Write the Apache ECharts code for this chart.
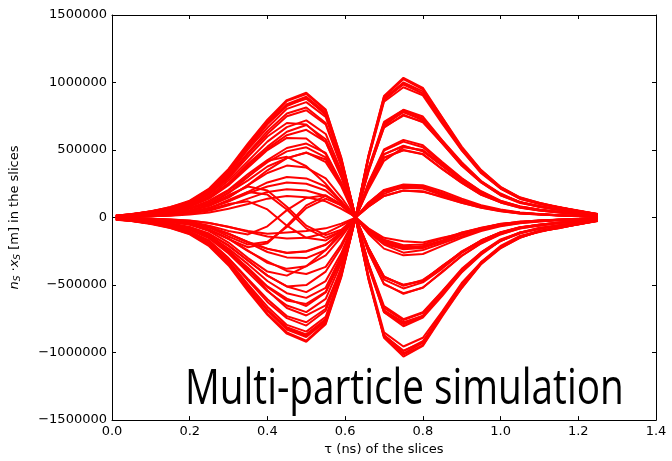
<!DOCTYPE html>
<html>
<head>
<meta charset="utf-8">
<script src="https://cdn.jsdelivr.net/npm/echarts@6/dist/echarts.min.js"></script>
<style>
  html, body { margin: 0; padding: 0; background: #fff; }
  #chart { width: 672px; height: 461px; }
</style>
</head>
<body>
<div id="chart"></div>
<script>
// tau sample points (ns), shared by every slice curve
const tau = [0.01, 0.05, 0.10, 0.15, 0.20, 0.25, 0.30, 0.35, 0.40, 0.45, 0.50, 0.55, 0.59, 0.627,
  0.66, 0.70, 0.75, 0.80, 0.85, 0.90, 0.95, 1.00, 1.05, 1.10, 1.15, 1.20, 1.25];

// n_S * x_S values, in thousands of m, one row per simulated particle run
const runs = [
  [14, 26, 44, 78, 118, 210, 345, 540, 710, 862, 915, 795, 440, 0, -450, -880, -1015, -945, -720, -520, -340, -225, -150, -100, -80, -48, -24],
  [16, 22, 47, 70, 122, 195, 338, 528, 700, 840, 895, 780, 428, 5, -440, -875, -985, -925, -705, -510, -330, -220, -140, -108, -72, -52, -22],
  [13, 25, 42, 72, 112, 190, 330, 515, 690, 825, 885, 760, 425, -4, -452, -882, -1005, -928, -722, -508, -342, -215, -148, -102, -78, -50, -26],
  [12, 24, 43, 66, 110, 185, 320, 505, 665, 805, 855, 745, 410, 3, -430, -850, -955, -890, -695, -485, -330, -210, -136, -98, -70, -46, -22],
  [15, 24, 46, 76, 125, 215, 360, 550, 725, 870, 925, 800, 445, -3, -458, -890, -1030, -950, -730, -522, -345, -228, -148, -104, -78, -50, -25],
  [13, 23, 45, 70, 115, 200, 340, 520, 695, 835, 880, 770, 430, -2, -445, -870, -990, -915, -710, -500, -335, -218, -144, -104, -74, -49, -24],
  [-14, -26, -45, -75, -120, -205, -340, -530, -712, -850, -912, -780, -435, 0, 455, 895, 1025, 950, 738, 515, 350, 225, 146, 110, 75, 52, 25],
  [-15, -23, -45, -70, -112, -200, -335, -520, -690, -830, -885, -770, -430, -5, 448, 868, 995, 915, 715, 500, 340, 215, 142, 105, 76, 48, 24],
  [-13, -24, -42, -72, -115, -188, -335, -500, -682, -812, -865, -752, -415, 4, 452, 884, 1000, 935, 718, 512, 338, 222, 147, 103, 77, 49, 27],
  [-12, -22, -44, -66, -108, -190, -320, -495, -660, -795, -845, -735, -405, -3, 435, 858, 965, 905, 695, 498, 328, 215, 138, 100, 74, 47, 23],
  [-16, -25, -47, -77, -124, -212, -355, -545, -720, -860, -920, -790, -442, 3, 460, 900, 1035, 960, 740, 525, 352, 228, 150, 108, 78, 51, 26],
  [-13, -24, -43, -69, -114, -195, -330, -515, -685, -820, -875, -760, -425, 2, 440, 875, 985, 920, 710, 505, 335, 218, 143, 102, 75, 49, 24],
  [12, 20, 42, 62, 100, 180, 300, 470, 620, 750, 795, 690, 380, 6, -345, -690, -775, -730, -555, -400, -260, -175, -110, -85, -58, -40, -18],
  [10, 18, 36, 60, 100, 170, 290, 450, 600, 700, 690, 560, 300, -6, -365, -700, -805, -740, -580, -405, -275, -172, -118, -80, -62, -38, -21],
  [10, 19, 32, 56, 85, 152, 255, 398, 525, 635, 685, 580, 330, 2, -340, -655, -752, -700, -545, -380, -258, -162, -112, -76, -58, -36, -18],
  [11, 21, 40, 65, 105, 185, 310, 480, 640, 770, 815, 700, 390, 0, -355, -700, -790, -735, -565, -405, -268, -172, -114, -82, -58, -38, -19],
  [-13, -20, -40, -60, -104, -170, -300, -455, -605, -730, -775, -675, -370, -2, 355, 680, 785, 720, 565, 395, 268, 170, 115, 80, 60, 38, 19],
  [-10, -18, -34, -52, -85, -140, -240, -380, -540, -670, -725, -650, -380, 5, 362, 708, 798, 748, 572, 410, 270, 178, 114, 86, 58, 41, 20],
  [-11, -17, -32, -54, -82, -145, -250, -372, -510, -600, -655, -555, -315, -4, 340, 672, 755, 710, 550, 385, 260, 165, 108, 82, 56, 37, 18],
  [-12, -21, -38, -62, -102, -175, -305, -465, -625, -745, -800, -690, -385, 2, 360, 700, 795, 735, 568, 402, 266, 174, 114, 83, 59, 39, 19],
  [8, 16, 30, 48, 80, 140, 240, 370, 500, 590, 585, 470, 250, 3, -230, -460, -525, -480, -378, -262, -180, -112, -76, -52, -40, -25, -14],
  [7, 14, 25, 36, 65, 104, 185, 275, 378, 440, 482, 410, 232, -3, -228, -435, -505, -462, -365, -250, -172, -108, -72, -55, -36, -26, -12],
  [6, 12, 22, 34, 55, 90, 150, 240, 350, 440, 480, 430, 250, 4, -255, -490, -565, -518, -405, -282, -192, -125, -80, -60, -40, -27, -15],
  [9, 17, 30, 52, 85, 145, 250, 385, 510, 610, 650, 560, 310, 3, -250, -495, -560, -520, -400, -285, -190, -122, -82, -58, -42, -27, -14],
  [-9, -17, -28, -50, -80, -130, -230, -345, -470, -560, -595, -520, -285, 2, 240, 470, 528, 495, 380, 272, 178, 118, 76, 55, 41, 26, 14],
  [-8, -14, -26, -42, -70, -120, -205, -320, -430, -510, -500, -400, -220, -3, 250, 495, 562, 520, 400, 288, 192, 122, 82, 58, 43, 27, 13],
  [-6, -12, -20, -35, -52, -95, -158, -248, -325, -395, -418, -365, -200, 3, 222, 442, 498, 468, 358, 256, 168, 112, 72, 52, 38, 24, 12],
  [-9, -16, -31, -50, -84, -148, -255, -390, -515, -615, -640, -550, -305, -3, 258, 505, 575, 535, 412, 292, 195, 125, 82, 60, 42, 28, 14],
  [5, 9, 16, 26, 42, 70, 120, 190, 260, 300, 290, 230, 120, -4, -100, -180, -225, -210, -170, -110, -80, -45, -35, -20, -18, -10, -5],
  [3, 6, 11, 18, 30, 50, 90, 140, 190, 210, 200, 160, 90, 2, -80, -150, -175, -185, -150, -120, -78, -50, -30, -25, -15, -12, -6],
  [3, 5, 10, 18, 35, 70, 130, 190, 170, 60, -80, -150, -100, 4, -110, -200, -260, -240, -190, -140, -95, -60, -40, -28, -20, -12, -6],
  [6, 10, 18, 30, 50, 85, 150, 240, 330, 385, 370, 290, 150, 0, -105, -195, -235, -225, -175, -125, -82, -52, -34, -24, -17, -11, -6],
  [-5, -9, -16, -26, -42, -70, -120, -185, -255, -295, -300, -240, -125, 3, 100, 190, 220, 215, 165, 115, 78, 50, 32, 24, 16, 11, 5],
  [-3, -6, -11, -20, -38, -75, -140, -200, -180, -70, 70, 140, 90, -2, 110, 205, 245, 240, 195, 140, 92, 60, 38, 27, 19, 12, 6],
  [-2, -4, -8, -14, -22, -40, -70, -100, -120, -110, -100, -80, -45, 0, 80, 160, 200, 190, 155, 110, 75, 48, 30, 22, 15, 10, 5],
  [-6, -10, -18, -30, -52, -88, -155, -245, -335, -380, -360, -280, -145, 0, 110, 200, 240, 232, 180, 128, 85, 55, 36, 25, 17, 11, 6],
  [3, 5, 9, 14, 22, 38, 65, 100, 140, 160, 150, 120, 65, 5, 90, 175, 230, 225, 180, 125, 85, 55, 35, 25, 17, 11, 6],
  [-2, -5, -9, -15, -24, -40, -68, -105, -140, -155, -150, -115, -60, -4, -95, -170, -215, -220, -175, -125, -82, -52, -34, -24, -16, -10, -5],
  [2, 5, 9, 16, 30, 60, 100, 120, 60, -60, -150, -170, -100, 0, 80, 160, 200, 195, 150, 110, 72, 46, 30, 22, 15, 10, 5],
  [-2, -5, -9, -16, -30, -60, -100, -125, -65, 55, 145, 165, 95, 0, -85, -165, -205, -200, -155, -112, -75, -48, -32, -22, -15, -10, -5],
  [8, 16, 27, 45, 70, 125, 205, 322, 425, 515, 548, 478, 260, 6, 238, 468, 532, 490, 385, 268, 182, 115, 78, 54, 42, 25, 14],
  [-9, -14, -28, -45, -72, -120, -210, -318, -430, -510, -552, -470, -265, -6, -224, -442, -498, -468, -358, -256, -168, -112, -72, -53, -37, -24, -12],
  [8, 14, 26, 42, 68, 115, 200, 305, 410, 490, 520, 445, 250, 0, 225, 445, 500, 470, 360, 258, 170, 112, 74, 53, 38, 25, 12],
  [-4, -8, -14, -24, -40, -70, -120, -180, -230, -260, -250, -200, -110, 0, -225, -440, -500, -470, -360, -255, -170, -110, -74, -53, -37, -25, -12],
  [12, 19, 36, 58, 94, 158, 274, 418, 562, 670, 720, 619, 346, 8, 345, 665, 762, 705, 550, 385, 260, 165, 112, 78, 58, 37, 19],
  [-11, -19, -35, -56, -91, -154, -266, -406, -546, -651, -700, -602, -336, -8, -342, -669, -760, -707, -547, -388, -258, -167, -110, -80, -57, -38, -19],
  [4, 8, 14, 24, 40, 70, 120, 180, 230, 260, 250, 200, 110, 0, 350, 690, 780, 725, 560, 398, 265, 172, 113, 82, 59, 39, 20],
  [-4, -8, -14, -25, -42, -72, -122, -182, -232, -262, -252, -202, -112, 0, -352, -688, -780, -726, -562, -398, -265, -172, -113, -82, -59, -39, -20],
  [-3, -6, -12, -22, -45, -90, -160, -220, -190, -60, 90, 160, 100, -3, -100, -185, -230, -215, -180, -125, -85, -55, -36, -25, -17, -11, -5],
  [4, 7, 12, 24, 48, 92, 165, 230, 200, 80, -60, -130, -90, 2, 95, 195, 240, 230, 175, 125, 82, 52, 34, 24, 17, 11, 6],
  [3, 8, 15, 25, 50, 95, 180, 300, 420, 450, 380, 250, 120, 0, -120, -230, -280, -270, -210, -150, -100, -65, -42, -30, -20, -13, -7],
  [-4, -8, -15, -28, -52, -100, -185, -300, -400, -430, -360, -240, -110, 1, 210, 420, 520, 500, 390, 280, 185, 120, 80, 58, 40, 26, 13]
];

const xTicks = [0, 0.2, 0.4, 0.6, 0.8, 1.0, 1.2, 1.4];
const yTicks = [-1500000, -1000000, -500000, 0, 500000, 1000000, 1500000];

const myChart = echarts.init(document.getElementById('chart'));

const font = 'DejaVu Sans';
const series = runs.map(function (row, i) {
  return {
    name: 'run' + i,
    type: 'line',
    data: row.map(function (v, k) { return [tau[k], v * 1000]; }),
    showSymbol: false,
    lineStyle: { color: '#ff0000', width: 2 },
    silent: true
  };
});

const axisCommon = {
  axisLine: { show: true, onZero: false, lineStyle: { color: '#000', width: 1 } },
  axisTick: { show: true, inside: true, length: 4, lineStyle: { color: '#000' } },
  splitLine: { show: false }
};

const option = {
  animation: false,
  grid: { left: 107, right: 16, top: 15, bottom: 36 },
  xAxis: [
    Object.assign({
      type: 'value',
      min: xTicks[0],
      max: xTicks[xTicks.length - 1],
      interval: 0.2,
      name: 'τ (ns) of the slices',
      nameLocation: 'middle',
      nameGap: 22,
      nameTextStyle: { color: '#000', fontFamily: font, fontSize: 13 },
      axisLabel: {
        color: '#000', fontFamily: font, fontSize: 13, margin: 5,
        formatter: function (v) { return v.toFixed(1); }
      }
    }, axisCommon),
    Object.assign({
      type: 'value', position: 'top', min: 0, max: 1.4, interval: 0.2,
      axisLabel: { show: false }
    }, axisCommon)
  ],
  yAxis: [
    Object.assign({
      type: 'value',
      min: yTicks[0],
      max: yTicks[yTicks.length - 1],
      interval: 500000,
      name: '{i|n}{s|S} ·{i|x}{s|S} [m] in the slices',
      nameLocation: 'middle',
      nameGap: 90,
      nameTextStyle: {
        color: '#000', fontFamily: font, fontSize: 13,
        rich: {
          i: { fontStyle: 'italic', fontFamily: font, fontSize: 13, color: '#000' },
          s: { fontStyle: 'italic', fontFamily: font, fontSize: 9, color: '#000', padding: [6, 0, 0, 0] }
        }
      },
      axisLabel: {
        color: '#000', fontFamily: font, fontSize: 13, margin: 5,
        formatter: function (v) { return String(v).replace('-', '\u2212'); }
      }
    }, axisCommon),
    Object.assign({
      type: 'value', position: 'right', min: -1500000, max: 1500000, interval: 500000,
      axisLabel: { show: false }
    }, axisCommon)
  ],
  graphic: [{
    type: 'text',
    x: 185,
    y: 366,
    scaleX: 0.79,
    z: 100,
    style: {
      text: 'Multi-particle simulation',
      fontFamily: 'Open Sans',
      fontSize: 49,
      fill: '#000'
    }
  }],
  series: series
};

myChart.setOption(option);
</script>
</body>
</html>
